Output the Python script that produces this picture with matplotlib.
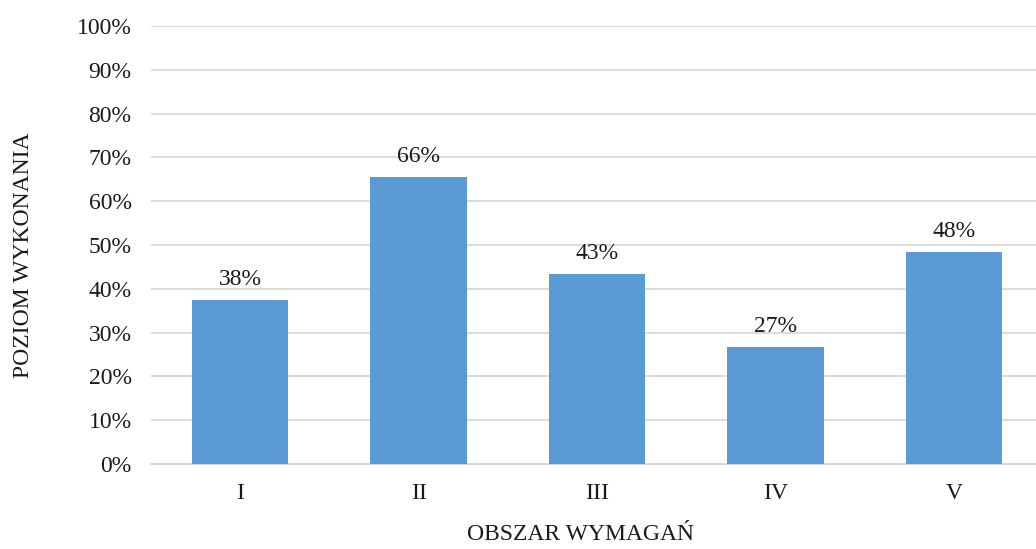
import matplotlib
matplotlib.use('Agg')
import matplotlib.pyplot as plt
from matplotlib.ticker import MultipleLocator, FuncFormatter

# dane
categories = ['I', 'II', 'III', 'IV', 'V']
values = [37.4, 65.6, 43.3, 26.8, 48.3]
value_labels = ['38%', '66%', '43%', '27%', '48%']

plt.rcParams['font.family'] = ['Liberation Serif', 'DejaVu Serif']
FS = 17
TXT = '#1a1a1a'

fig = plt.figure(figsize=(10.36, 5.49), dpi=100, facecolor='white')
ax = fig.add_axes([151 / 1036, 85 / 549, (1036 - 151) / 1036, (464 - 26) / 549])

x = range(len(categories))
bars = ax.bar(x, values, width=0.54, color='#5B9BD5', zorder=3)

for bar, lab in zip(bars, value_labels):
    ax.text(bar.get_x() + bar.get_width() / 2, bar.get_height() + 2.3, lab,
            ha='center', va='bottom', fontsize=FS, color=TXT)

ax.set_xlim(-0.5, 4.46)
ax.set_ylim(0, 100)
ax.yaxis.set_major_locator(MultipleLocator(10))
ax.yaxis.set_major_formatter(FuncFormatter(lambda v, p: f'{v:.0f}%'))
ax.set_xticks(list(x))
ax.set_xticklabels(categories)

ax.grid(axis='y', color='#D9D9D9', linewidth=1.3, zorder=0)
ax.set_axisbelow(True)
for s in ['top', 'right', 'left']:
    ax.spines[s].set_visible(False)
ax.spines['bottom'].set_color('#D9D9D9')
ax.spines['bottom'].set_linewidth(1.3)
ax.tick_params(axis='both', length=0, labelsize=FS, colors=TXT)
ax.tick_params(axis='x', pad=14)
ax.tick_params(axis='y', pad=14)

ax.set_xlabel('OBSZAR WYMAGAŃ', fontsize=FS, color=TXT)
ax.xaxis.set_label_coords(0.485, -0.137)
ax.set_ylabel('POZIOM WYKONANIA', fontsize=FS, color=TXT)
ax.yaxis.set_label_coords(-0.132, 0.477)

fig.savefig('out.png', dpi=100, facecolor='white')
